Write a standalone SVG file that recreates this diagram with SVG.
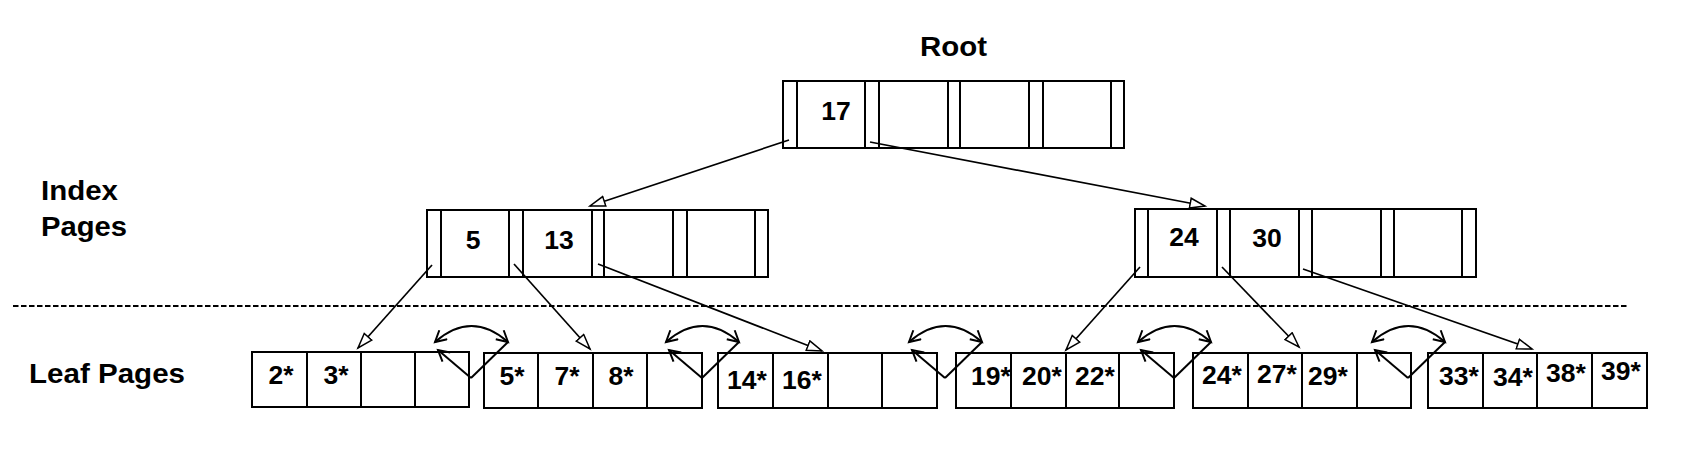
<svg xmlns="http://www.w3.org/2000/svg" xmlns:xlink="http://www.w3.org/1999/xlink" width="1689" height="459" viewBox="0 0 1689 459">
<style>
  .box { fill: #fff; stroke: #000; stroke-width: 2; }
  .div { stroke: #000; stroke-width: 2; }
  .num { font-family: "Liberation Sans", Arial, sans-serif; font-weight: bold; font-size: 26.5px; text-anchor: middle; fill: #000; }
  .lbl { font-family: "Liberation Sans", Arial, sans-serif; font-weight: bold; font-size: 27px; fill: #000; }
  .ptr { stroke: #000; stroke-width: 1.7; fill: none; marker-end: url(#tri); }
  .sib { stroke: #000; stroke-width: 2; fill: none; }
  .dash { stroke: #000; stroke-width: 2; stroke-dasharray: 5.5 2.5; }
</style>
<defs>
  <marker id="tri" markerUnits="userSpaceOnUse" markerWidth="20" markerHeight="14" refX="16" refY="6" orient="auto">
    <path d="M1,1 L16,6 L1,11 Z" fill="#fff" stroke="#000" stroke-width="1.5"/>
  </marker>
  <marker id="barb" markerUnits="userSpaceOnUse" markerWidth="16" markerHeight="16" refX="12" refY="7" orient="auto-start-reverse">
    <path d="M1,1 L12,7 L1,13" fill="none" stroke="#000" stroke-width="2"/>
  </marker>
  <g id="sib">
    <path class="sib" d="M-36,342 Q0.5,310 37,342" marker-start="url(#barb)" marker-end="url(#barb)"/>
    <path class="sib" d="M0,378 L-33,350" marker-end="url(#barb)"/>
    <path class="sib" d="M0,378 L37,342"/>
  </g>
</defs>
<rect width="1689" height="459" fill="#fff"/>

<g id="labels">
  <text class="lbl" x="920" y="56" textLength="67" lengthAdjust="spacingAndGlyphs">Root</text>
  <text class="lbl" x="41" y="200" textLength="77" lengthAdjust="spacingAndGlyphs">Index</text>
  <text class="lbl" x="41" y="236" textLength="86" lengthAdjust="spacingAndGlyphs">Pages</text>
  <text class="lbl" x="29" y="383" textLength="156" lengthAdjust="spacingAndGlyphs">Leaf Pages</text>
</g>

<line id="separator" class="dash" x1="13" y1="306" x2="1628" y2="306"/>

<g id="root">
  <rect class="box" x="783" y="81" width="341" height="67"/>
  <path class="div" d="M797,81V148M865,81V148M879,81V148M948,81V148M960,81V148M1029,81V148M1043,81V148M1111,81V148"/>
  <text class="num" x="836" y="120">17</text>
</g>

<g id="index-left">
  <rect class="box" x="427" y="210" width="341" height="67"/>
  <path class="div" d="M441,210V277M509,210V277M523,210V277M592,210V277M604,210V277M673,210V277M687,210V277M755,210V277"/>
  <text class="num" x="473" y="249">5</text>
  <text class="num" x="559" y="249">13</text>
</g>

<g id="index-right">
  <rect class="box" x="1135" y="209" width="341" height="68"/>
  <path class="div" d="M1148,209V277M1217,209V277M1230,209V277M1299,209V277M1312,209V277M1381,209V277M1394,209V277M1462,209V277"/>
  <text class="num" x="1184" y="246">24</text>
  <text class="num" x="1267" y="247">30</text>
</g>

<g id="leaf1">
  <rect class="box" x="252" y="352" width="217" height="55"/>
  <path class="div" d="M307,352V407M361,352V407M415,352V407"/>
  <text class="num" x="281" y="384">2*</text>
  <text class="num" x="336" y="384">3*</text>
</g>

<g id="leaf2">
  <rect class="box" x="484" y="353" width="218" height="55"/>
  <path class="div" d="M538,353V408M593,353V408M647,353V408"/>
  <text class="num" x="512" y="385">5*</text>
  <text class="num" x="567" y="385">7*</text>
  <text class="num" x="621" y="385">8*</text>
</g>

<g id="leaf3">
  <rect class="box" x="718" y="353" width="219" height="55"/>
  <path class="div" d="M773,353V408M828,353V408M882,353V408"/>
  <text class="num" x="747" y="389">14*</text>
  <text class="num" x="802" y="389">16*</text>
</g>

<g id="leaf4">
  <rect class="box" x="956" y="353" width="218" height="55"/>
  <path class="div" d="M1011,353V408M1066,353V408M1119,353V408"/>
  <text class="num" x="991" y="385">19*</text>
  <text class="num" x="1042" y="385">20*</text>
  <text class="num" x="1095" y="385">22*</text>
</g>

<g id="leaf5">
  <rect class="box" x="1193" y="353" width="218" height="55"/>
  <path class="div" d="M1248,353V408M1302,353V408M1357,353V408"/>
  <text class="num" x="1222" y="384">24*</text>
  <text class="num" x="1277" y="383">27*</text>
  <text class="num" x="1328" y="385">29*</text>
</g>

<g id="leaf6">
  <rect class="box" x="1428" y="353" width="219" height="55"/>
  <path class="div" d="M1483,353V408M1537,353V408M1592,353V408"/>
  <text class="num" x="1459" y="385">33*</text>
  <text class="num" x="1513" y="386">34*</text>
  <text class="num" x="1566" y="382">38*</text>
  <text class="num" x="1621" y="380">39*</text>
</g>

<g id="connectors">
  <line class="ptr" x1="789" y1="140" x2="590" y2="206"/>
  <line class="ptr" x1="870" y1="142" x2="1205" y2="206"/>
  <line class="ptr" x1="432" y1="265" x2="358" y2="348"/>
  <line class="ptr" x1="514" y1="264" x2="590" y2="349"/>
  <line class="ptr" x1="598" y1="264" x2="822" y2="351"/>
  <line class="ptr" x1="1140" y1="267" x2="1066" y2="350"/>
  <line class="ptr" x1="1222" y1="267" x2="1299" y2="347"/>
  <line class="ptr" x1="1303" y1="269" x2="1532" y2="349"/>
  <use xlink:href="#sib" x="471"/>
  <use xlink:href="#sib" x="702"/>
  <use xlink:href="#sib" x="945"/>
  <use xlink:href="#sib" x="1174"/>
  <use xlink:href="#sib" x="1408"/>
</g>
</svg>
